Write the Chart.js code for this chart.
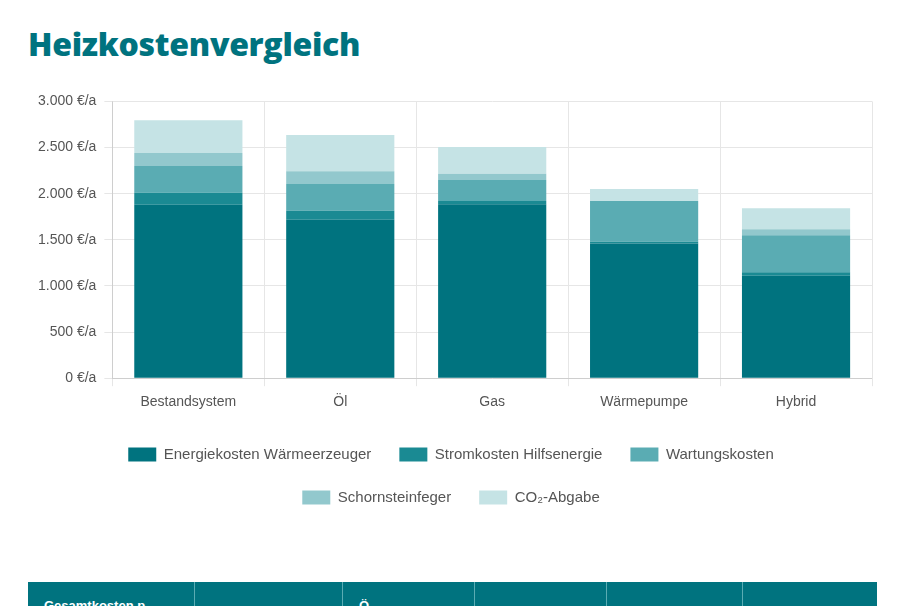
<!DOCTYPE html>
<html><head><meta charset="utf-8">
<script src="https://cdn.jsdelivr.net/npm/chart.js@4"></script>
<style>
body{margin:0;background:#fff;font-family:"Liberation Sans",Arial,sans-serif;width:906px;height:606px;overflow:hidden;position:relative}
h1{position:absolute;left:28px;top:22px;margin:0;font-family:"Open Sans","Noto Sans",sans-serif;font-weight:800;font-size:32px;color:#00737f;letter-spacing:-0.3px}
#wrap{position:absolute;left:30px;top:85px;width:856px;height:430px}
#tbl{position:absolute;left:28px;top:582px;width:849px;height:30px;background:#00737f;display:flex}
#tbl div{border-right:1px solid #5aacb3;color:#fff;font-weight:bold;font-size:13px;padding:16px 0 0 16px;box-sizing:border-box}
</style></head><body>
<h1>Heizkostenvergleich</h1>
<div id="wrap"><canvas id="c"></canvas></div>
<div id="tbl"><div style="width:167px">Gesamtkosten p</div><div style="width:148px"></div><div style="width:132px">Ö</div><div style="width:132px"></div><div style="width:136px"></div><div style="width:134px;border:none"></div></div>
<script>
const categories=["Bestandsystem","Öl","Gas","Wärmepumpe","Hybrid"];
const energie=[1880,1716,1885,1460,1111];
const strom=[130,100,36,20,36];
const wartung=[290,288,226,441,403];
const schorn=[140,140,68,0,65];
const co2=[356,392,292,129,227];
const labels=["Energiekosten Wärmeerzeuger","Stromkosten Hilfsenergie","Wartungskosten","Schornsteinfeger","CO₂-Abgabe"];
const colors=["#00737f","#1a8a93","#5aacb3","#92c8cd","#c5e3e5"];
const series=[energie,strom,wartung,schorn,co2];
new Chart(document.getElementById('c'),{type:'bar',
data:{labels:categories,datasets:series.map((d,i)=>({label:labels[i],data:d,backgroundColor:colors[i],categoryPercentage:0.8,barPercentage:0.89}))},
options:{responsive:true,maintainAspectRatio:false,animation:false,
layout:{padding:{right:14}},
plugins:{legend:{position:'bottom',labels:{boxWidth:28,boxHeight:14,padding:28,color:'#555',font:{size:15,family:'Liberation Sans'}}},tooltip:{enabled:false}},
scales:{x:{stacked:true,grid:{color:'#e6e6e6',offset:true},ticks:{color:'#555',font:{size:14},padding:8}},
y:{stacked:true,min:0,max:3000,ticks:{stepSize:500,color:'#555',font:{size:14},padding:8,callback:v=>v.toLocaleString('de-DE')+' €/a'},grid:{color:'#e6e6e6'}}}}});
</script></body></html>
